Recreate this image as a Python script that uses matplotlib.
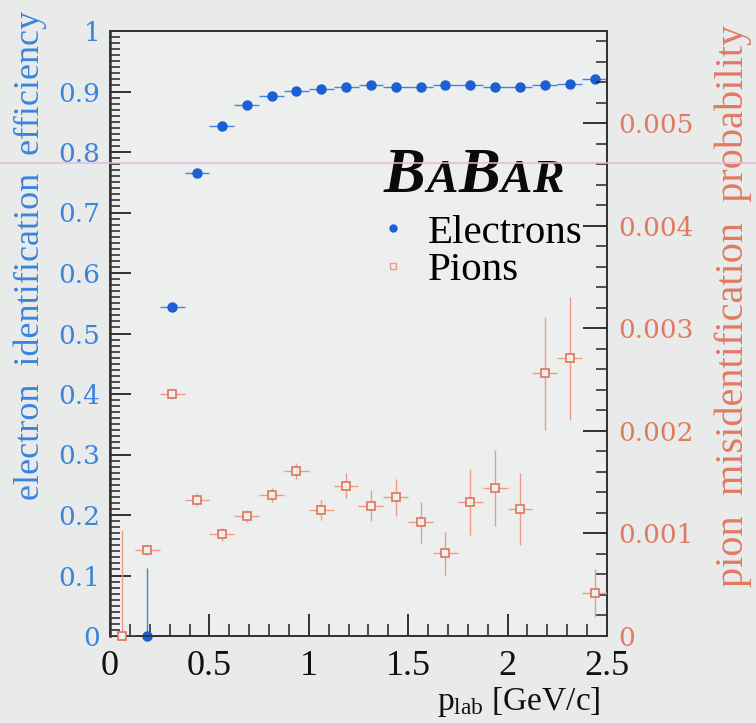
import numpy as np
import matplotlib
matplotlib.use("Agg")
import matplotlib.pyplot as plt
from matplotlib.lines import Line2D
from matplotlib.ticker import MultipleLocator, FixedLocator, FuncFormatter

plt.rcParams['mathtext.fontset'] = 'custom'
plt.rcParams['mathtext.rm'] = 'Liberation Serif'
plt.rcParams['mathtext.it'] = 'Liberation Serif:italic'

# momentum bins (GeV/c), 0.125 wide
bin_half = 0.0625
p_electron = [0.1875, 0.3125, 0.4375, 0.5625, 0.6875, 0.8125, 0.9375, 1.0625,
              1.1875, 1.3125, 1.4375, 1.5625, 1.6875, 1.8125, 1.9375, 2.0625,
              2.1875, 2.3125, 2.4375]
eff_electron = [0.0, 0.543, 0.766, 0.843, 0.878, 0.893, 0.901, 0.904,
                0.907, 0.910, 0.908, 0.908, 0.911, 0.911, 0.908, 0.908,
                0.910, 0.913, 0.921]
eff_electron_err = [0.113, 0.006, 0.004, 0.003, 0.003, 0.002, 0.002, 0.002,
                    0.002, 0.002, 0.002, 0.002, 0.002, 0.002, 0.002, 0.002,
                    0.002, 0.002, 0.003]

p_pion = [0.0625, 0.1875, 0.3125, 0.4375, 0.5625, 0.6875, 0.8125, 0.9375,
          1.0625, 1.1875, 1.3125, 1.4375, 1.5625, 1.6875, 1.8125, 1.9375,
          2.0625, 2.1875, 2.3125, 2.4375]
mis_pion = [0.0, 0.000837, 0.00236, 0.00133, 0.00099, 0.00117, 0.001375,
            0.00161, 0.00123, 0.001466, 0.00127, 0.001355, 0.00111, 0.000805,
            0.001306, 0.001446, 0.001242, 0.00256, 0.00271, 0.00042]
mis_pion_err = [0.00103, 0.00005, 0.00005, 0.00006, 0.00006, 0.00006, 0.00007,
                0.00008, 0.0001, 0.00012, 0.00015, 0.00018, 0.0002, 0.00021,
                0.00032, 0.00037, 0.00035, 0.00055, 0.0006, 0.00023]

left_ticks = [0.0, 0.1, 0.2, 0.3, 0.4, 0.5, 0.6, 0.7, 0.8, 0.9, 1.0]
right_ticks = [0.0, 0.001, 0.002, 0.003, 0.004, 0.005]
x_ticks = [0.0, 0.5, 1.0, 1.5, 2.0, 2.5]

W, H = 756, 723
fig_bg = '#E8EBEA'
ax_bg = '#EDEFEE'
blue = '#1B5FD2'
blue_err = '#3F85E2'
blue_txt = '#3A84DC'
orange = '#E2745A'
orange_err = '#EC9A80'
orange_txt = '#E27A62'

fig = plt.figure(figsize=(W / 100, H / 100), dpi=100, facecolor=fig_bg)
L, R, B, T = 110, 607, 636, 31
ax = fig.add_axes([L / W, 1 - B / H, (R - L) / W, (B - T) / H], facecolor=ax_bg)
ax2 = ax.twinx()

# electron efficiency (left scale)
e_line, _, _ = ax.errorbar(p_electron, eff_electron, xerr=bin_half,
                           yerr=eff_electron_err, fmt='o', color=blue, ms=6.5,
                           mec=blue, ecolor=blue_err, elinewidth=1.0,
                           capsize=0, zorder=5)
e_line.set_clip_on(False)
ax.set_xlim(0, 2.5)
ax.set_ylim(0, 1.0)

# pion misidentification (right scale)
p_line, _, _ = ax2.errorbar(p_pion, mis_pion, xerr=bin_half, yerr=mis_pion_err,
                            fmt='s', ms=6, mfc=ax_bg, mec=orange, mew=1.2,
                            ecolor=orange_err, elinewidth=1.0, capsize=0,
                            zorder=4)
p_line.set_clip_on(False)
ax2.set_ylim(0, 0.0059)

serif = 'Liberation Serif'
tick_font = 'DejaVu Serif'

def num_fmt(v, _):
    if abs(v) < 1e-12:
        return '0'
    return ('%.3f' % v).rstrip('0').rstrip('.')

# left axis
ax.yaxis.set_major_locator(FixedLocator(left_ticks))
ax.yaxis.set_minor_locator(MultipleLocator(0.01))
ax.yaxis.set_major_formatter(FuncFormatter(num_fmt))
ax.tick_params(axis='y', which='major', direction='in', length=15, width=1.3,
               color='#222222', labelcolor=blue_txt, labelsize=19, pad=7,
               left=True, right=False)
ax.tick_params(axis='y', which='minor', direction='in', length=7, width=1.1,
               color='#222222', left=True, right=False)
for lab in ax.get_yticklabels():
    lab.set_fontfamily(tick_font)

# bottom axis
ax.xaxis.set_major_locator(FixedLocator(x_ticks))
ax.xaxis.set_minor_locator(MultipleLocator(0.1))
ax.xaxis.set_major_formatter(FuncFormatter(num_fmt))
ax.tick_params(axis='x', which='major', direction='in', length=16, width=1.3,
               color='#222222', labelcolor='#111111', labelsize=26, pad=10,
               top=False)
ax.tick_params(axis='x', which='minor', direction='in', length=9, width=1.1,
               color='#222222', top=False)
for lab in ax.get_xticklabels():
    lab.set_fontfamily(serif)

# right axis
ax2.yaxis.set_major_locator(FixedLocator(right_ticks))
ax2.yaxis.set_minor_locator(MultipleLocator(0.0002))
ax2.yaxis.set_major_formatter(FuncFormatter(num_fmt))
ax2.tick_params(axis='y', which='major', direction='in', length=17, width=1.3,
                color='#222222', labelcolor=orange_txt, labelsize=19, pad=8)
ax2.tick_params(axis='y', which='minor', direction='in', length=8, width=1.1,
                color='#222222')
for lab in ax2.get_yticklabels():
    lab.set_fontfamily(tick_font)

for a in (ax, ax2):
    for s in a.spines.values():
        s.set_color('#333333')
        s.set_linewidth(1.3)
ax.spines['left'].set_linewidth(1.8)

# axis titles
fig.text(30 / W, 1 - 255 / H, 'electron  identification  efficiency',
         rotation=90, ha='center', va='center', color=blue_txt,
         fontsize=26, fontfamily=serif)
fig.text(733 / W, 1 - 306 / H, 'pion  misidentification  probability',
         rotation=90, ha='center', va='center', color=orange_txt,
         fontsize=29, fontfamily=serif)
fig.text(600 / W, 1 - 702 / H, r'p$_{\mathrm{lab}}$ [GeV/c]',
         ha='right', va='center', color='#111111', fontsize=24, fontfamily=serif)

# legend
handles = [Line2D([], [], marker='o', ls='none', color=blue, ms=5),
           Line2D([], [], marker='s', ls='none', mfc='none', mec=orange_err,
                  mew=1.0, ms=5)]
leg = ax.legend(handles, ['Electrons', 'Pions'], loc='upper left',
                bbox_to_anchor=((381 - L) / (R - L), (B - 214) / (B - T)),
                frameon=False, prop={'family': serif, 'size': 29.5},
                handlelength=0.6, handletextpad=0.55, labelspacing=0.0,
                borderpad=0, borderaxespad=0)
leg.set_zorder(10)

# BaBar logo: large B's, small A's and R, set one after another
fig.canvas.draw()
renderer = fig.canvas.get_renderer()
x = 384.0
for ch, size in [('B', 45), ('A', 34), ('B', 45), ('A', 34), ('R', 34)]:
    t = fig.text(x / W, 1 - 192 / H, ch, fontsize=size, fontfamily=serif,
                 fontweight='bold', fontstyle='italic', color='#0A0A0A',
                 ha='left', va='baseline')
    bb = t.get_window_extent(renderer)
    x = bb.x1 + 0.5

# faint horizontal scan line across the sheet
fig.add_artist(Line2D([0, 1], [1 - 163 / H, 1 - 163 / H], transform=fig.transFigure,
                      color='#E8B8D8', lw=1.2, alpha=0.9, zorder=20))

fig.savefig('out.png', dpi=100, facecolor=fig_bg)
